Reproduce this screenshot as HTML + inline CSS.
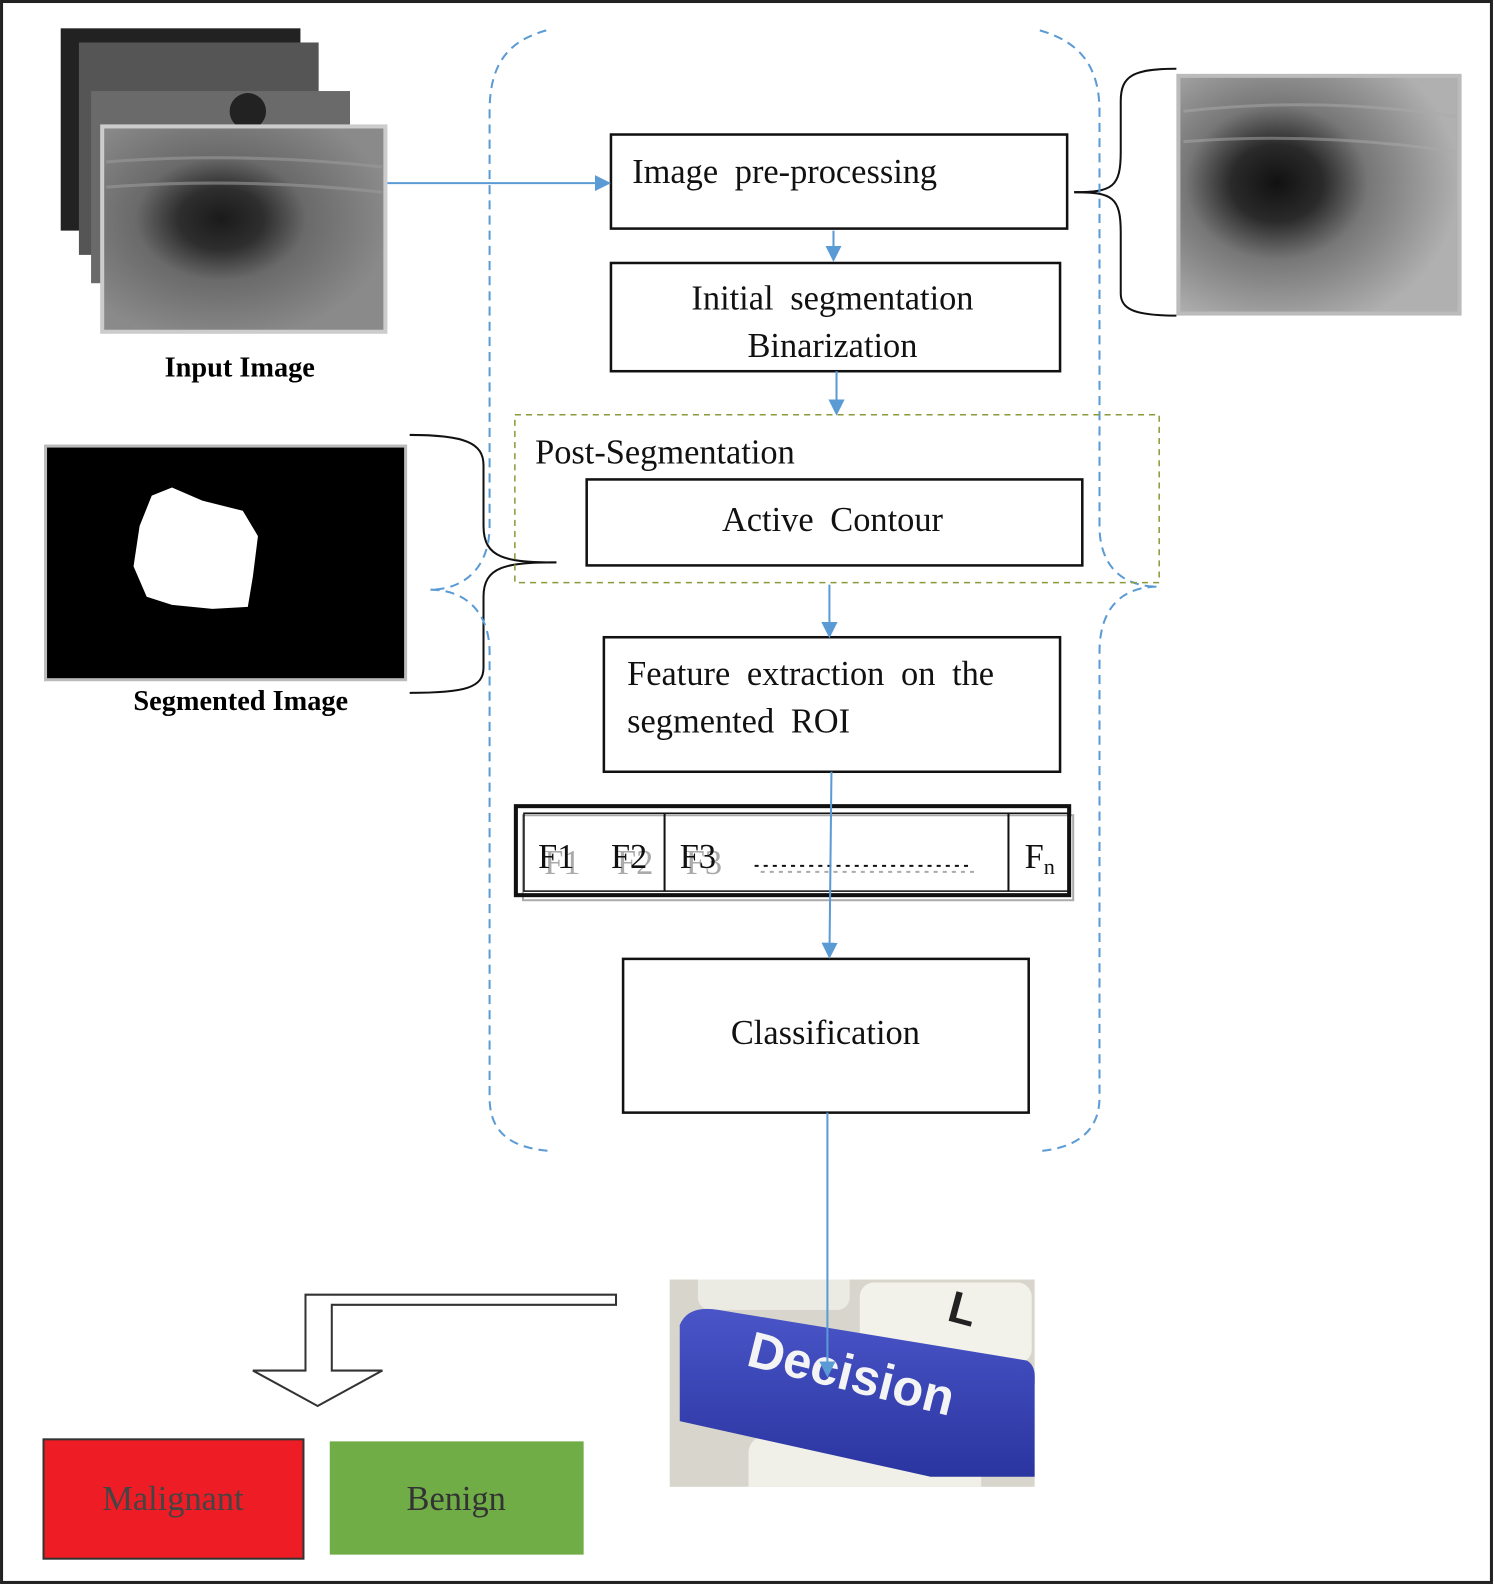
<!DOCTYPE html>
<html><head><meta charset="utf-8"><style>
html,body{margin:0;padding:0;background:#fff;}
svg{display:block;}
.serif{font-family:"Liberation Serif",serif;}
</style></head><body>
<svg width="1494" height="1586" viewBox="0 0 1477 1568" xmlns="http://www.w3.org/2000/svg" class="serif" font-family="Liberation Serif, serif">
<defs>
<marker id="ar2" markerWidth="16" markerHeight="16" refX="14" refY="8" orient="auto" markerUnits="userSpaceOnUse"><path d="M0,0 L16,8 L0,16 z" fill="#5b9bd5"/></marker>
<radialGradient id="us" cx="0.42" cy="0.45" r="0.6"><stop offset="0" stop-color="#1a1a1a"/><stop offset="0.25" stop-color="#2e2e2e"/><stop offset="0.5" stop-color="#6a6a6a"/><stop offset="1" stop-color="#8a8a8a"/></radialGradient>
<radialGradient id="us2" cx="0.35" cy="0.45" r="0.65"><stop offset="0" stop-color="#111"/><stop offset="0.25" stop-color="#2a2a2a"/><stop offset="0.5" stop-color="#777"/><stop offset="1" stop-color="#b0b0b0"/></radialGradient>
<linearGradient id="key" x1="0" y1="0" x2="0" y2="1"><stop offset="0" stop-color="#4a55c8"/><stop offset="1" stop-color="#2a35a0"/></linearGradient>
<clipPath id="dc"><rect x="662" y="1265" width="361" height="205"/></clipPath>
</defs>
<rect x="1.5" y="1.5" width="1473" height="1563" fill="#fff" stroke="#222" stroke-width="3"/>

<rect x="60" y="28" width="237" height="200" fill="#222"/>
<rect x="78" y="42" width="237" height="210" fill="#555"/>
<rect x="90" y="90" width="256" height="190" fill="#6a6a6a"/>
<circle cx="245" cy="110" r="18" fill="#222"/>
<rect x="101" y="125" width="280" height="203" fill="url(#us)" stroke="#ccc" stroke-width="4"/>
<path d="M105,160 Q240,150 378,165 M105,185 Q240,175 378,190" stroke="#9a9a9a" stroke-width="3" fill="none" opacity="0.6"/>
<text x="237" y="372" font-size="28" font-weight="bold" text-anchor="middle">Input  Image</text>

<rect x="1165" y="75" width="278" height="235" fill="url(#us2)" stroke="#bbb" stroke-width="4"/>
<path d="M1170,110 Q1300,95 1440,115 M1170,140 Q1300,130 1440,150" stroke="#aaa" stroke-width="3" fill="none" opacity="0.5"/>
<path d="M1062,190 C1100,190 1108,185 1108,150 L1108,100 C1108,75 1120,68 1163,68" fill="none" stroke="#111" stroke-width="2"/>
<path d="M1062,190 C1100,190 1108,195 1108,230 L1108,290 C1108,305 1120,312 1163,312" fill="none" stroke="#111" stroke-width="2"/>

<rect x="45" y="441" width="356" height="231" fill="#000" stroke="#bbb" stroke-width="3"/>
<path d="M150,490 L170,482 L200,495 L240,505 L255,530 L250,570 L245,600 L210,602 L170,598 L145,590 L132,560 L138,520 Z" fill="#fff"/>
<text x="238" y="702" font-size="28" font-weight="bold" text-anchor="middle">Segmented  Image</text>
<path d="M550,556 C500,556 478,560 478,590 L478,660 C478,680 460,685 405,685" fill="none" stroke="#111" stroke-width="2"/>
<path d="M550,556 C500,556 478,552 478,520 L478,460 C478,438 460,430 405,430" fill="none" stroke="#111" stroke-width="2"/>

<g fill="none" stroke="#5b9bd5" stroke-width="2" stroke-dasharray="9,6">
<path d="M540,30 C505,40 484,60 484,110 L484,520 C484,560 460,583 425,583 C460,583 484,605 484,645 L484,1085 C484,1120 505,1135 545,1138"/>
<path d="M1028,30 C1062,40 1087,60 1087,110 L1087,520 C1087,560 1110,580 1145,580 C1110,580 1087,600 1087,645 L1087,1085 C1087,1120 1062,1135 1028,1138"/>
</g>

<g fill="#fff" stroke="#111" stroke-width="2.5">
<rect x="604" y="133" width="451" height="93"/>
<rect x="604" y="260" width="444" height="107"/>
</g>
<rect x="509" y="410" width="637" height="166" fill="none" stroke="#8a9a3a" stroke-width="1.5" stroke-dasharray="6,5"/>
<g fill="#fff" stroke="#111" stroke-width="2.5">
<rect x="580" y="474" width="490" height="85"/>
<rect x="597" y="630" width="451" height="133"/>
<rect x="616" y="948" width="401" height="152"/>
</g>
<g font-size="34" fill="#111">
<text x="625" y="181" word-spacing="8">Image  pre-processing</text>
<text x="823" y="306" text-anchor="middle" word-spacing="8">Initial  segmentation</text>
<text x="823" y="353" text-anchor="middle">Binarization</text>
<text x="529" y="458">Post-Segmentation</text>
<text x="823" y="525" text-anchor="middle" word-spacing="8">Active  Contour</text>
<text x="620" y="677" word-spacing="8">Feature  extraction  on the</text>
<text x="620" y="724" word-spacing="8">segmented  ROI</text>
<text x="816" y="1032" text-anchor="middle">Classification</text>
</g>

<rect x="517" y="806" width="544" height="84" fill="none" stroke="#aaa" stroke-width="2"/>
<rect x="510" y="797" width="547" height="88" fill="none" stroke="#111" stroke-width="4"/>
<rect x="518" y="804" width="539" height="77" fill="none" stroke="#111" stroke-width="1.5"/>
<line x1="657" y1="804" x2="657" y2="881" stroke="#111" stroke-width="2"/>
<line x1="997" y1="804" x2="997" y2="881" stroke="#111" stroke-width="2"/>
<g font-size="34">
<text x="532" y="858" fill="#aaa" dx="6" dy="6">F1</text><text x="532" y="858" fill="#111">F1</text>
<text x="604" y="858" fill="#aaa" dx="6" dy="6">F2</text><text x="604" y="858" fill="#111">F2</text>
<text x="672" y="858" fill="#aaa" dx="6" dy="6">F3</text><text x="672" y="858" fill="#111">F3</text>
<text x="1013" y="858" fill="#111">F<tspan font-size="22" dy="6">n</tspan></text>
</g>
<line x1="746" y1="856" x2="960" y2="856" stroke="#111" stroke-width="2" stroke-dasharray="4,5"/>
<line x1="752" y1="862" x2="966" y2="862" stroke="#aaa" stroke-width="2" stroke-dasharray="4,5"/>

<g clip-path="url(#dc)">
<rect x="662" y="1265" width="361" height="205" fill="#d8d6cc"/>
<rect x="690" y="1255" width="150" height="40" rx="12" fill="#ecebe3"/>
<rect x="850" y="1268" width="170" height="80" rx="14" fill="#f2f1ea"/>
<text x="935" y="1305" style="font-family:'Liberation Sans',sans-serif" font-size="44" font-weight="bold" fill="#222" transform="rotate(15 935 1305)">L</text>
<rect x="740" y="1420" width="230" height="70" rx="16" fill="#f0efe8"/>
<path d="M672,1310 Q680,1290 710,1295 L1015,1345 Q1025,1350 1023,1370 L1023,1460 L920,1460 L672,1405 Z" fill="url(#key)"/>
<text x="840" y="1375" style="font-family:'Liberation Sans',sans-serif" font-size="50" font-weight="bold" fill="#f4f4f4" text-anchor="middle" transform="rotate(14 840 1365)">Decision</text>
</g>

<g stroke="#5b9bd5" stroke-width="2" fill="none">
<line x1="383" y1="181" x2="602" y2="181" marker-end="url(#ar2)"/>
<line x1="824" y1="228" x2="824" y2="257" marker-end="url(#ar2)"/>
<line x1="827" y1="367" x2="827" y2="409" marker-end="url(#ar2)"/>
<line x1="820" y1="578" x2="820" y2="629" marker-end="url(#ar2)"/>
<line x1="822" y1="763" x2="820" y2="946" marker-end="url(#ar2)"/>
<line x1="818" y1="1100" x2="818" y2="1360" marker-end="url(#ar2)"/>
</g>

<path d="M609,1280 L302,1280 L302,1355 L250,1355 L314,1390 L378,1355 L328,1355 L328,1290 L609,1290 Z" fill="#fff" stroke="#333" stroke-width="2"/>

<rect x="43" y="1423" width="257" height="118" fill="#ee1c24" stroke="#333" stroke-width="2"/>
<rect x="326" y="1425" width="251" height="112" fill="#70ad47"/>
<text x="171" y="1493" font-size="34" fill="#444" text-anchor="middle">Malignant</text>
<text x="451" y="1493" font-size="34" fill="#333" text-anchor="middle">Benign</text>
</svg>
</body></html>
